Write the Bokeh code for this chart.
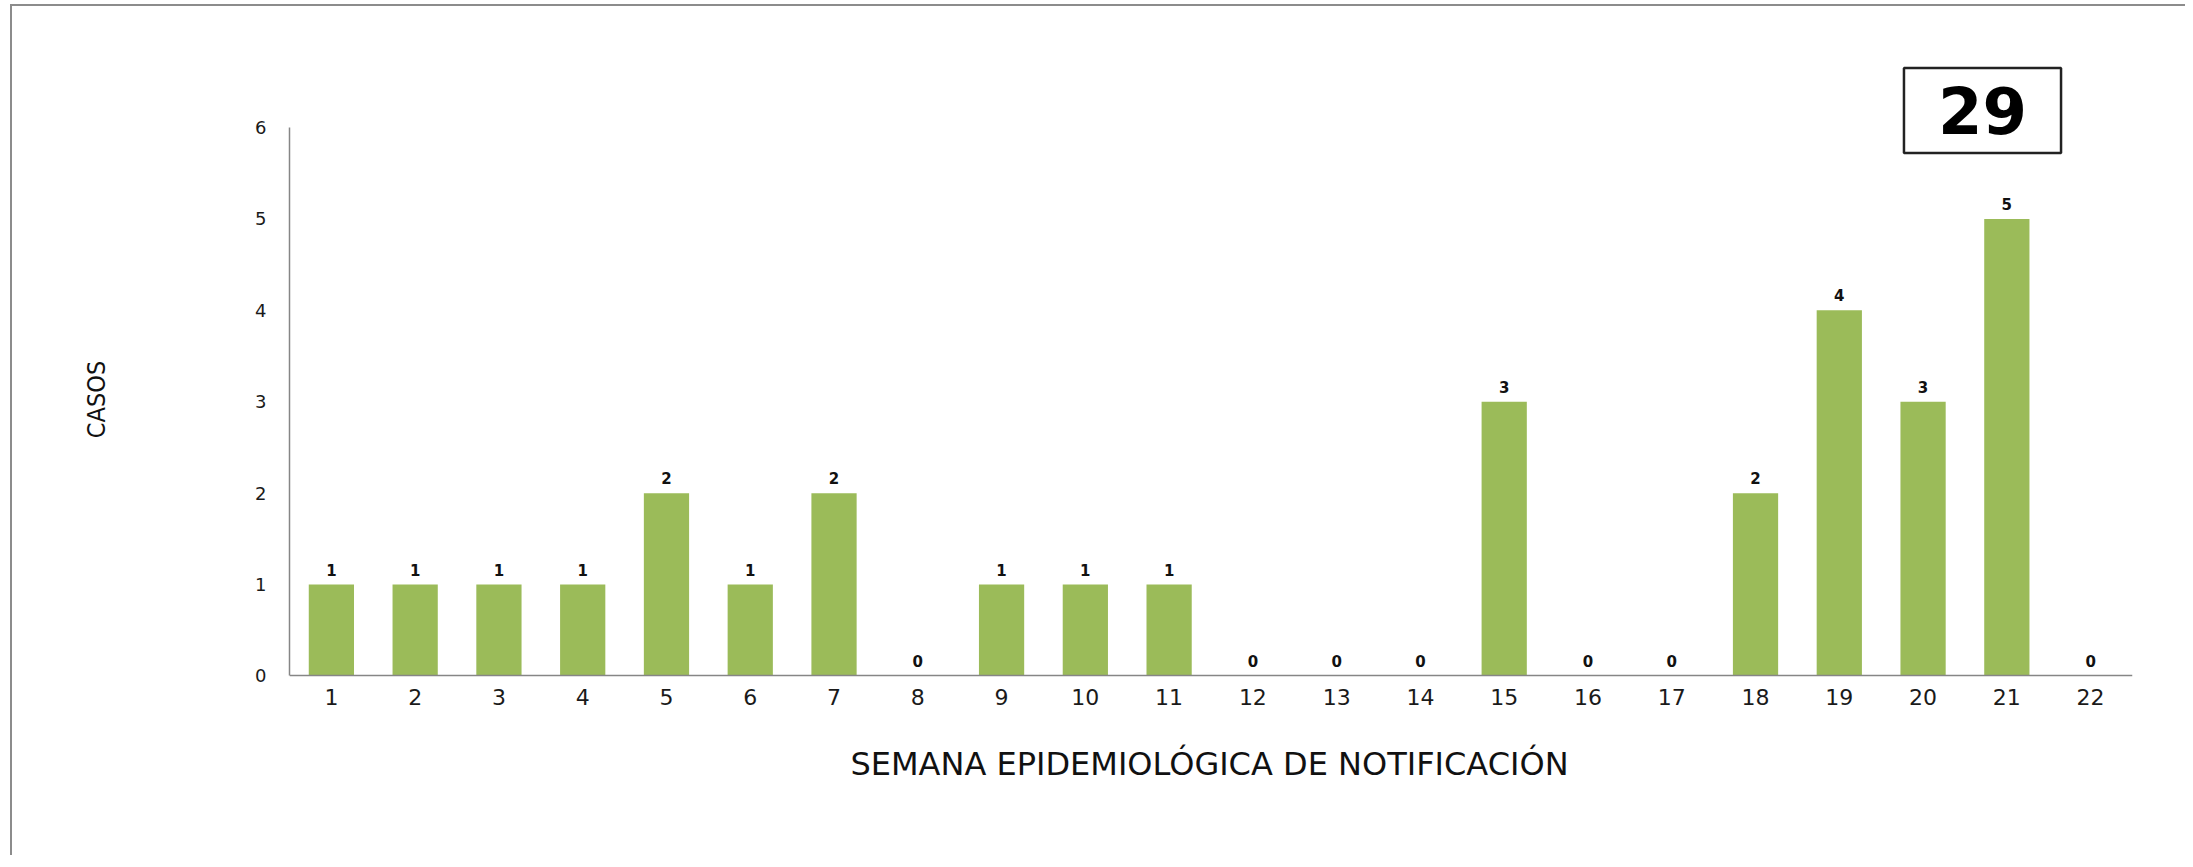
from bokeh.plotting import figure
from bokeh.models import FactorRange, Range1d, ColumnDataSource, LabelSet, Label, FixedTicker
from bokeh.core.properties import value
from bokeh.embed import file_html
from bokeh.resources import INLINE

# ---- data ----
weeks = [str(i) for i in range(1, 23)]
cases = [1, 1, 1, 1, 2, 1, 2, 0, 1, 1, 1, 0, 0, 0, 3, 0, 0, 2, 4, 3, 5, 0]
y_ticks = [0, 1, 2, 3, 4, 5, 6]
total_label = "29"
x_title = "SEMANA EPIDEMIOLÓGICA DE NOTIFICACIÓN"
y_title = "CASOS"

W, H = 2175, 851
src = ColumnDataSource(dict(week=weeks, cases=cases, label=[str(c) for c in cases]))

# frame spans the whole height so that the y-axis title is centred on the
# 0..6 axis line; the x axis is pinned at y = 0
p = figure(width=W, height=H, output_backend="svg", toolbar_location=None,
           x_range=FactorRange(factors=weeks, range_padding=0),
           y_range=Range1d(-1.2743, 7.323),
           min_border_left=277, min_border_right=55, min_border_top=0, min_border_bottom=65)
p.styles = {"border-left": "2px solid #8c8c8c", "border-top": "2px solid #8c8c8c",
            "margin-left": "10px", "margin-top": "4px"}
p.outline_line_color = None
p.xgrid.grid_line_color = None
p.ygrid.grid_line_color = None
p.background_fill_color = "white"
p.border_fill_color = "white"

p.vbar(x="week", top="cases", bottom=0, width=0.54, source=src,
       fill_color="#9BBB59", line_color=None)

labels = LabelSet(x="week", y="cases", text="label", source=src, y_offset=9,
                  text_align="center", text_baseline="alphabetic",
                  text_font=value("DejaVu Sans"), text_font_style=value("bold"),
                  text_font_size=value("15px"), text_color="#111111")
p.add_layout(labels)

for ax in (p.xaxis, p.yaxis):
    ax.axis_line_color = "#868686"
    ax.axis_line_width = 1.5
    ax.major_tick_line_color = None
    ax.minor_tick_line_color = None
    ax.major_tick_out = 0
    ax.major_tick_in = 0
    ax.major_label_text_font = "DejaVu Sans"
    ax.major_label_text_color = "#1a1a1a"
    ax.axis_label_text_font_style = "normal"
    ax.axis_label_text_color = "#111111"

p.xaxis.fixed_location = 0
p.xaxis.major_label_text_font_size = "22px"
p.xaxis.major_label_standoff = 13

p.yaxis.ticker = FixedTicker(ticks=y_ticks)
p.yaxis.bounds = (0, 6)
p.yaxis.major_label_text_font_size = "18px"
p.yaxis.major_label_standoff = 23
p.yaxis.axis_label = y_title
p.yaxis.axis_label_text_font = "Liberation Sans Narrow, DejaVu Sans Condensed"
p.yaxis.axis_label_text_font_size = "25px"
p.yaxis.axis_label_standoff = 141

xtitle = Label(x=920, y=29, x_units="screen", y_units="screen", text=x_title,
               text_align="center", text_baseline="alphabetic",
               text_font="DejaVu Sans", text_font_style="normal", text_font_size="32px",
               text_color="#111111")
p.add_layout(xtitle)

box = Label(x=1693, y=682, x_units="screen", y_units="screen", text=total_label,
            text_align="center", text_baseline="middle",
            text_font="DejaVu Sans", text_font_style="bold", text_font_size="64px",
            text_color="black", border_line_color="#222222", border_line_width=2.5,
            background_fill_color="white", padding=(34, 19))
p.add_layout(box)

open("out.html", "w").write(file_html(p, INLINE))
